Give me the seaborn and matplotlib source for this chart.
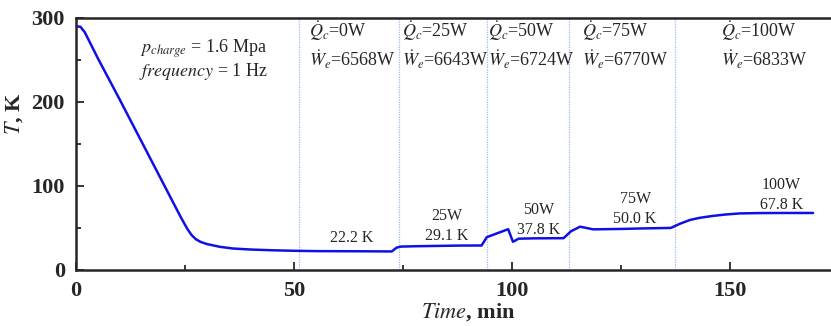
import numpy as np
import pandas as pd
import matplotlib.pyplot as plt
import seaborn as sns

# cooldown curve
time_min = [0, 1.0, 2, 5, 10, 15, 20, 24, 25.5, 26.5, 27.5, 28.5, 30, 33, 36, 40, 45, 50, 55, 60, 66, 72.4,
            73.5, 74.5, 78, 83, 88, 93,
            94.2, 96, 99.1, 100.2, 101.5, 105, 111.8,
            113.5, 115.6, 118.6, 125, 130, 136.4,
            138.5, 140.8, 143, 146, 149, 152.3, 157, 162, 169]
temp_K = [290, 289.5, 283, 252, 203, 153, 103, 63, 49, 41.5, 36.5, 33.5, 30.8, 27.5, 25.5, 24.3, 23.4, 22.8, 22.4, 22.3, 22.2, 22.0,
          26.5, 27.8, 28.2, 28.6, 29.0, 29.1,
          39, 42.5, 48.5, 33.5, 37.2, 37.6, 37.8,
          46, 51.5, 48.3, 48.8, 49.4, 50.0,
          55, 59.5, 62, 64.3, 66, 67.3, 67.7, 67.8, 67.8]

# heat-load switch times (dotted lines)
switch_t = [51.1, 74.1, 94.3, 113.1, 137.4]

# top labels
q_loads = ['0W', '25W', '50W', '75W', '100W']
w_power = ['6568W', '6643W', '6724W', '6770W', '6833W']
top_x = [53.5, 74.8, 94.5, 116.0, 147.8]

# steady-state labels
steady_lbl = ['22.2 K', '25W\n29.1 K', '50W\n37.8 K', '75W\n50.0 K', '100W\n67.8 K']
steady_x = [63.2, 85.0, 106.0, 128.2, 161.8]
steady_y = [28, 31, 38, 51, 68]

df = pd.DataFrame({'Time': time_min, 'T': temp_K})

sns.set_style('ticks')
plt.rcParams['font.family'] = ['Liberation Serif', 'DejaVu Serif']
plt.rcParams['mathtext.fontset'] = 'stix'

fig = plt.figure(figsize=(8.31, 3.26), dpi=100)
ax = fig.add_axes([0.0915, 0.172, 0.9435, 0.773])

sns.lineplot(data=df, x='Time', y='T', ax=ax, color='#1010e6', linewidth=1.8)

for t in switch_t:
    ax.axvline(t, color='#9db8ee', linestyle=(0, (1, 1)), linewidth=0.9, zorder=0)

for x, q, w in zip(top_x, q_loads, w_power):
    ax.text(x, 284, r'$\dot{Q}_c$' + '=' + q, fontsize=13, ha='left', va='center')
    ax.text(x, 250, r'$\dot{W}_e$' + '=' + w, fontsize=13, ha='left', va='center')

for x, y, s in zip(steady_x, steady_y, steady_lbl):
    ax.text(x, y, s, fontsize=11.5, ha='center', va='bottom', linespacing=1.3)

ax.text(29.3, 263, r'$p_{charge}$' + ' = 1.6 Mpa', fontsize=13, ha='center', va='center')
ax.text(29.3, 236, r'$frequency$' + ' = 1 Hz', fontsize=13, ha='center', va='center')

ax.set_xlim(0, 179.8)
ax.set_ylim(0, 300)
ax.set_xticks([0, 50, 100, 150])
ax.set_xticks([25, 75, 125, 175], minor=True)
ax.set_yticks([0, 100, 200, 300])
ax.set_yticks([50, 150, 250], minor=True)
ax.tick_params(which='both', direction='in', width=1.3)
ax.tick_params(which='major', length=6, labelsize=16, pad=8)
ax.tick_params(which='minor', length=3.5)
for lbl in ax.get_xticklabels() + ax.get_yticklabels():
    lbl.set_fontweight('bold')
for sp in ax.spines.values():
    sp.set_linewidth(1.8)

ax.set_xlabel(r'$\mathbf{\mathit{Time}}$' + ', min', fontsize=16, fontweight='bold', labelpad=0)
ax.set_ylabel(r'$\mathbf{\mathit{T}}$' + ', K', fontsize=16, fontweight='bold')
ax.yaxis.set_label_coords(-0.065, 0.62)

fig.savefig('out.png', dpi=100)
